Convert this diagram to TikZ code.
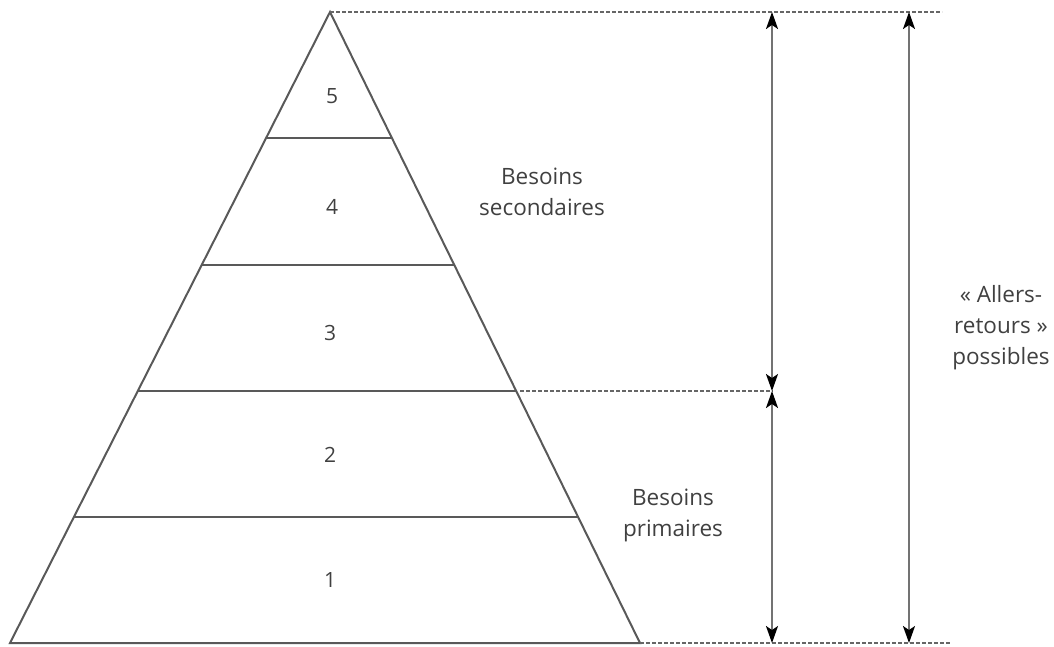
\documentclass[tikz,border=0pt]{standalone}
\usepackage{fontspec}
\setmainfont{Open Sans}
\usetikzlibrary{arrows.meta}
\tikzset{
  level line/.style={draw=black!65, line width=2pt},
  guide/.style={draw=black!60, dashed, dash pattern=on 3.5pt off 2.5pt, line width=1.2pt},
  span/.style={draw=black!55, line width=2pt, {Stealth[length=17pt,width=12pt,inset=4pt,black]}-{Stealth[length=17pt,width=12pt,inset=4pt,black]}},
  level num/.style={text=black!75, font=\fontsize{21}{25}\selectfont},
  caption/.style={text=black!75, align=center, font=\fontsize{22.5}{31}\selectfont}
}
\begin{document}
\begin{tikzpicture}[x=1pt,y=-1pt]
  \useasboundingbox (0,0) rectangle (1054,646);
  % pyramid
  \coordinate (apex) at (330,12);
  \coordinate (baseL) at (10,643);
  \coordinate (baseR) at (640,643);
  \draw[level line, line join=miter] (baseL) -- (apex) -- (baseR) -- cycle;
  % level separators
  \foreach \y/\name in {138/s4, 265/s3, 391/s2, 517/s1} {
    \pgfmathsetmacro\dx{(\y-12)*0.50713}
    \pgfmathsetmacro\dr{(\y-12)*0.49128}
    \coordinate (\name L) at ({330-\dx},\y);
    \coordinate (\name R) at ({330+\dr},\y);
    \draw[level line] (\name L) -- (\name R);
  }
  % numbers
  \node[level num] (n5) at (332,96) {5};
  \node[level num] (n4) at (332,207) {4};
  \node[level num] (n3) at (330,333) {3};
  \node[level num] (n2) at (330,455) {2};
  \node[level num] (n1) at (330,580) {1};
  % guides
  \coordinate (topR) at (942,12);
  \coordinate (midR) at (773,391);
  \coordinate (botR) at (950,643);
  \draw[guide] (apex) -- (topR);
  \draw[guide] ([xshift=4pt]s2R) -- (midR);
  \draw[guide] (baseR) -- (botR);
  % spans
  \coordinate (a1) at (772,12);
  \coordinate (a2) at (772,391);
  \coordinate (a3) at (772,643);
  \coordinate (b1) at (909,12);
  \coordinate (b2) at (909,643);
  \draw[span] (a1) -- (a2);
  \draw[span] (a2) -- (a3);
  \draw[span] (b1) -- (b2);
  % captions
  \node[caption] (sec) at (542,192) {Besoins\\secondaires};
  \node[caption] (prim) at (673,515) {Besoins\\primaires};
  \node[caption] (ar) at (1001,328) {« Allers-\\retours »\\possibles};
\end{tikzpicture}
\end{document}
